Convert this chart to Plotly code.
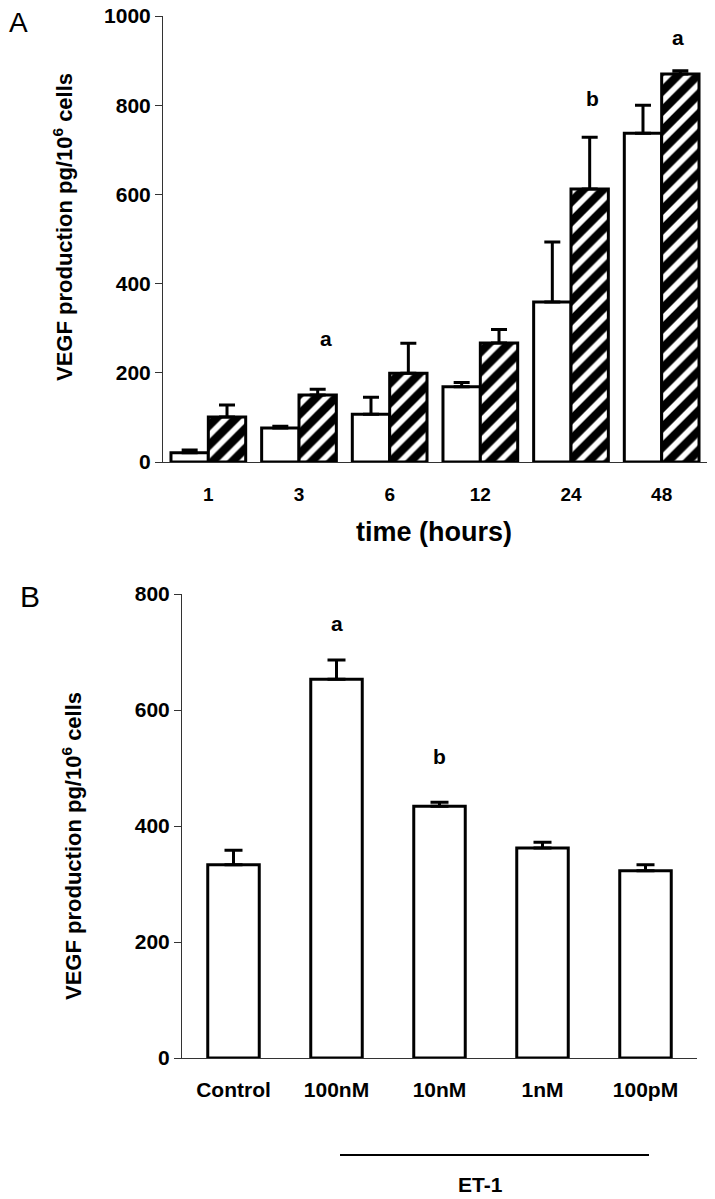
import plotly.graph_objects as go

# ---------------- Panel A data ----------------
time_labels = ["1", "3", "6", "12", "24", "48"]
control_vals = [21, 76, 107, 169, 359, 737]
control_err = [6, 4, 38, 9, 134, 63]
treated_vals = [101, 150, 199, 267, 612, 870]
treated_err = [27, 13, 67, 30, 116, 7]
a_sig_labels = ["a", "b", "a"]
a_sig_idx = [1, 4, 5]
a_sig_y = [278, 816, 951]

# ---------------- Panel B data ----------------
b_categories = ["Control", "100nM", "10nM", "1nM", "100pM"]
b_vals = [333, 653, 434, 362, 323]
b_err = [25, 33, 7, 10, 10]
b_sig_labels = ["a", "b"]
b_sig_idx = [1, 2]
b_sig_y = [750, 520]

FONT = "Liberation Sans, Arial, Helvetica, sans-serif"
OFF = 8  # page body margin
W, H = 715 - 2 * OFF, 1199 - OFF

def px(xp):
    return min(1.0, max(0.0, (xp - OFF) / W))

def py(yp):
    return min(1.0, max(0.0, 1 - (yp - OFF) / H))

fig = go.Figure()

fig.add_trace(go.Bar(
    x=time_labels, y=control_vals, xaxis="x", yaxis="y",
    marker=dict(color="white", line=dict(color="black", width=3)),
    error_y=dict(type="data", symmetric=False, array=control_err,
                 arrayminus=[0] * len(control_err),
                 color="black", thickness=3, width=8),
    showlegend=False,
))
fig.add_trace(go.Bar(
    x=time_labels, y=treated_vals, xaxis="x", yaxis="y",
    marker=dict(color="white", line=dict(color="black", width=3),
                pattern=dict(shape="/", fgcolor="black", bgcolor="white",
                             fgopacity=1, fillmode="replace",
                             size=14, solidity=0.6)),
    error_y=dict(type="data", symmetric=False, array=treated_err,
                 arrayminus=[0] * len(treated_err),
                 color="black", thickness=3, width=8),
    showlegend=False,
))

fig.add_trace(go.Bar(
    x=b_categories, y=b_vals, xaxis="x2", yaxis="y2", width=0.5,
    marker=dict(color="white", line=dict(color="black", width=3)),
    error_y=dict(type="data", symmetric=False, array=b_err,
                 arrayminus=[0] * len(b_err),
                 color="black", thickness=3, width=9),
    showlegend=False,
))

axis_common = dict(showgrid=False, zeroline=False, showline=True,
                   linecolor="#333333", linewidth=1, automargin=False,
                   ticklabeloverflow="allow")

fig.update_layout(
    width=W, height=H,
    margin=dict(l=0, r=0, t=0, b=0),
    paper_bgcolor="white", plot_bgcolor="white",
    barmode="group", bargap=0.176, bargroupgap=0,
    font=dict(family=FONT, color="black"),
    xaxis=dict(domain=[px(163), px(708)], anchor="y", type="category",
               range=[-0.5, 5.5], ticks="", ticklabelstandoff=15,
               tickfont=dict(size=19, family=FONT, weight="bold"),
               **axis_common),
    yaxis=dict(domain=[py(462), py(16)], anchor="x", range=[0, 1000],
               tickvals=[0, 200, 400, 600, 800, 1000],
               ticks="outside", ticklen=7, tickcolor="#333333",
               tickfont=dict(size=21, family=FONT, weight="bold"),
               **axis_common),
    xaxis2=dict(domain=[px(182), px(697)], anchor="y2", type="category",
                range=[-0.5, 4.5], ticks="", ticklabelstandoff=13,
                tickfont=dict(size=21, family=FONT, weight="bold"),
                **axis_common),
    yaxis2=dict(domain=[py(1058), py(594)], anchor="x2", range=[0, 800],
                tickvals=[0, 200, 400, 600, 800],
                ticks="outside", ticklen=7, tickcolor="#333333",
                tickfont=dict(size=21, family=FONT, weight="bold"),
                **axis_common),
)

annotations = []
ylab = "VEGF production pg/10<sup>6</sup> cells"
annotations.append(dict(text=ylab, xref="paper", yref="paper", x=px(63), y=py(227),
                        textangle=-90, showarrow=False, xanchor="center", yanchor="middle",
                        font=dict(size=22, family=FONT, weight="bold")))
annotations.append(dict(text=ylab, xref="paper", yref="paper", x=px(72), y=py(846),
                        textangle=-90, showarrow=False, xanchor="center", yanchor="middle",
                        font=dict(size=22, family=FONT, weight="bold")))
annotations.append(dict(text="time (hours)", xref="paper", yref="paper", x=px(434), y=py(532),
                        showarrow=False, xanchor="center", yanchor="middle",
                        font=dict(size=27, family=FONT, weight="bold")))
annotations.append(dict(text="A", xref="paper", yref="paper", x=px(18), y=py(23),
                        showarrow=False, xanchor="center", yanchor="middle",
                        borderpad=0, font=dict(size=28, family=FONT)))
annotations.append(dict(text="B", xref="paper", yref="paper", x=px(30), y=py(596),
                        showarrow=False, xanchor="center", yanchor="middle",
                        font=dict(size=30, family=FONT)))
annotations.append(dict(text="ET-1", xref="paper", yref="paper", x=px(480), y=py(1184),
                        showarrow=False, xanchor="center", yanchor="middle",
                        borderpad=0, font=dict(size=21, family=FONT, weight="bold")))

a_offsets = [0.3, 0.24, 0.18]
for lab, idx, yv, off in zip(a_sig_labels, a_sig_idx, a_sig_y, a_offsets):
    annotations.append(dict(text=lab, xref="x", yref="y", x=idx + off, y=yv,
                            showarrow=False, xanchor="center", yanchor="middle",
                            font=dict(size=21, family=FONT, weight="bold")))
for lab, idx, yv in zip(b_sig_labels, b_sig_idx, b_sig_y):
    annotations.append(dict(text=lab, xref="x2", yref="y2", x=idx, y=yv,
                            showarrow=False, xanchor="center", yanchor="middle",
                            font=dict(size=21, family=FONT, weight="bold")))

fig.update_layout(annotations=annotations)

fig.add_shape(type="line", xref="paper", yref="paper",
              x0=px(340), x1=px(649), y0=py(1155), y1=py(1155),
              line=dict(color="black", width=2))

fig.write_html("out.html")
